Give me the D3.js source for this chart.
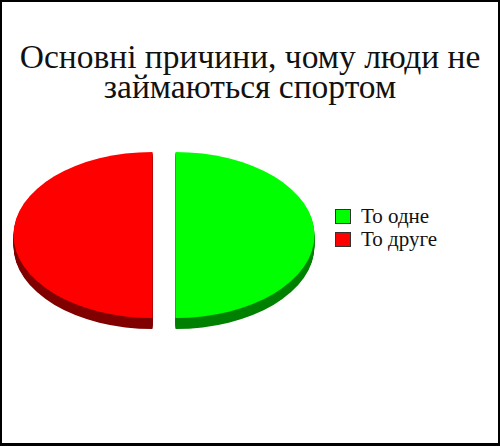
<!DOCTYPE html>
<html>
<head>
<meta charset="utf-8">
<script src="https://cdn.jsdelivr.net/npm/d3@7"></script>
<style>
  body { margin: 0; background: #fff; }
  svg { display: block; }
</style>
</head>
<body>
<div id="container"></div>
<script>
let w = 500;
let h = 446;

// data
let titleLines = ["Основні причини, чому люди не", "займаються спортом"];
let categories = ["То одне", "То друге"];
let values = [50, 50];
let topColors = ["#00ff00", "#ff0000"];
let sideColors = ["#008000", "#800000"];

// pie geometry
let cx = 164, cy = 235;
let rx = 139, ry = 83;
let depth = 11;
let explode = 11.5;

let viz = d3.select("#container").append("svg")
    .attr("width", w)
    .attr("height", h);

viz.append("rect")
    .attr("x", 0).attr("y", 0)
    .attr("width", w).attr("height", h)
    .attr("fill", "white");

// title
viz.append("text")
    .attr("text-anchor", "middle")
    .attr("font-family", "Liberation Serif, serif")
    .attr("font-size", 33.5)
    .attr("fill", "#111")
    .selectAll("tspan")
    .data(titleLines)
    .enter().append("tspan")
    .attr("x", w / 2)
    .attr("y", (d, i) => 68 + i * 29.5)
    .text(d => d);

let pie = d3.pie().sort(null).startAngle(0).endAngle(2 * Math.PI);
let arcs = pie(values);
let arc = d3.arc().innerRadius(0).outerRadius(rx);

function sliceTransform(d, dy) {
  let mid = (d.startAngle + d.endAngle) / 2;
  let ox = Math.sin(mid) * explode;
  let oy = -Math.cos(mid) * explode * ry / rx;
  return "translate(" + (cx + ox) + "," + (cy + oy + dy) + ") scale(1," + (ry / rx) + ")";
}

let pieGroup = viz.append("g").classed("pieGroup", true);

// side walls: stacked copies shifted down
let steps = d3.range(depth, 0, -1);
steps.forEach(function(s) {
  pieGroup.selectAll(".side" + s)
    .data(arcs)
    .enter().append("path")
    .attr("d", arc)
    .attr("transform", d => sliceTransform(d, s))
    .attr("fill", (d, i) => sideColors[i]);
});

// top faces
pieGroup.selectAll(".top")
  .data(arcs)
  .enter().append("path")
  .attr("class", "top")
  .attr("d", arc)
  .attr("transform", d => sliceTransform(d, 0))
  .attr("fill", (d, i) => topColors[i]);

// legend
let legend = viz.append("g").attr("transform", "translate(335,209)");
let items = legend.selectAll("g")
  .data(categories)
  .enter().append("g")
  .attr("transform", (d, i) => "translate(0," + (i * 23) + ")");
items.append("rect")
  .attr("x", 0.5).attr("y", 0.5)
  .attr("width", 15).attr("height", 14)
  .attr("fill", (d, i) => topColors[i])
  .attr("stroke", "#333")
  .attr("stroke-width", 1);
items.append("text")
  .attr("x", 26)
  .attr("y", 14)
  .attr("font-family", "Liberation Serif, serif")
  .attr("font-size", 21)
  .attr("fill", "#111")
  .text(d => d);

// frame
viz.append("rect").attr("x", 0).attr("y", 0).attr("width", 2).attr("height", h).attr("fill", "black");
viz.append("rect").attr("x", 0).attr("y", 0).attr("width", w).attr("height", 2).attr("fill", "black");
viz.append("rect").attr("x", w - 2).attr("y", 0).attr("width", 2).attr("height", h).attr("fill", "black");
viz.append("rect").attr("x", 0).attr("y", h - 3).attr("width", w).attr("height", 3).attr("fill", "black");
</script>
</body>
</html>
